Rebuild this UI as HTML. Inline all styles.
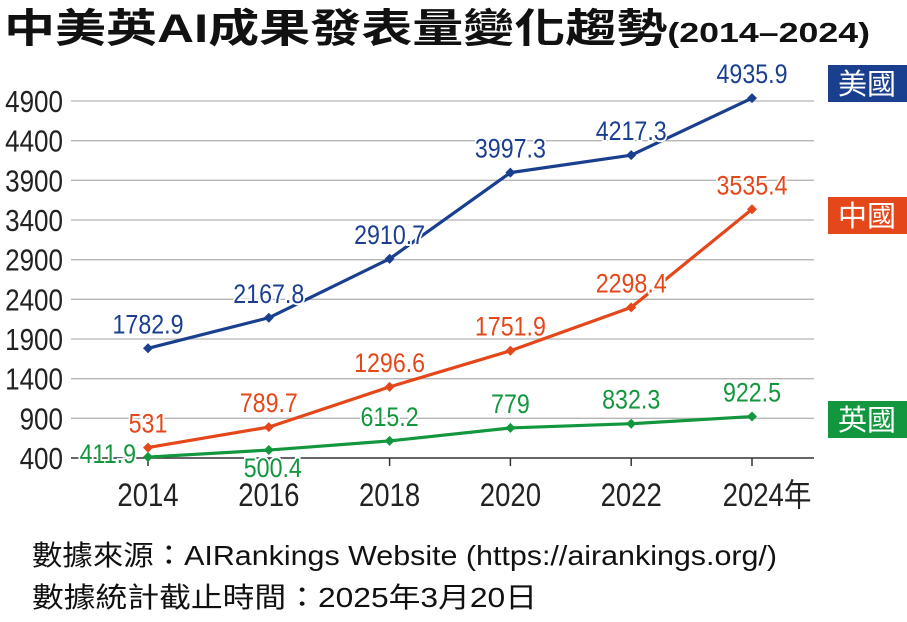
<!DOCTYPE html>
<html><head><meta charset="utf-8">
<style>
body{margin:0;background:#fff;width:907px;height:617px;overflow:hidden;font-family:"Liberation Sans","Noto Sans CJK TC",sans-serif;}
svg text{font-family:"Liberation Sans","Noto Sans CJK TC",sans-serif;}
</style></head>
<body>
<svg id="chart" width="907" height="617" viewBox="0 0 907 617" xmlns="http://www.w3.org/2000/svg">
<text x="4" y="42" font-size="40" font-weight="bold" fill="#111" textLength="866" lengthAdjust="spacingAndGlyphs">中美英AI成果發表量變化趨勢<tspan font-size="28">(2014–2024)</tspan></text>
<g id="grid"></g><g id="axes"></g><g id="series"></g>
<g>
<rect x="828" y="65" width="79" height="37" fill="#1b3f8f"/>
<text x="867" y="94" font-size="29" fill="#fff" text-anchor="middle">美國</text>
<rect x="828" y="197" width="79" height="37" fill="#e4471a"/>
<text x="867" y="226" font-size="29" fill="#fff" text-anchor="middle">中國</text>
<rect x="828" y="401" width="79" height="37" fill="#13973e"/>
<text x="867" y="430" font-size="29" fill="#fff" text-anchor="middle">英國</text>
</g>
<text x="32" y="565" font-size="28" fill="#111" textLength="745" lengthAdjust="spacingAndGlyphs">數據來源：AIRankings Website (https://airankings.org/)</text>
<text x="32" y="607" font-size="28" fill="#111" textLength="505" lengthAdjust="spacingAndGlyphs">數據統計截止時間：2025年3月20日</text>
</svg>
<script>
const years=[2014,2016,2018,2020,2022,2024];
const yTicks=[400,900,1400,1900,2400,2900,3400,3900,4400,4900];
const usa=[1782.9,2167.8,2910.7,3997.3,4217.3,4935.9];
const china=[531,789.7,1296.6,1751.9,2298.4,3535.4];
const uk=[411.9,500.4,615.2,779,832.3,922.5];
const NS="http://www.w3.org/2000/svg";
function xS(yr){return 148+(yr-2014)*60.4;}
function yS(v){return 458-(v-400)*357/4500;}
function mk(tag,attrs,parent){const e=document.createElementNS(NS,tag);for(const k in attrs)e.setAttribute(k,attrs[k]);parent.appendChild(e);return e;}
const grid=document.getElementById('grid'),axes=document.getElementById('axes'),ser=document.getElementById('series');
yTicks.forEach(t=>{
 if(t>400){const l=mk('line',{x1:71,x2:814,y1:yS(t),y2:yS(t),stroke:'#b5b5b5','stroke-width':1.3},grid);
 
 }
 const tx=mk('text',{transform:`translate(63,${yS(t)+11}) scale(0.84,1)`,'font-size':31,'text-anchor':'end',fill:'#222'},axes);tx.textContent=t;
 
 
});
const ax=mk('line',{x1:71,x2:814,y1:458,y2:458,stroke:'#333','stroke-width':1.5},axes);


years.forEach((yr,i)=>{
 mk('line',{x1:xS(yr),x2:xS(yr),y1:458,y2:466,stroke:'#333','stroke-width':1.5},axes);
 const last=i===years.length-1;
 const tx=mk('text',{transform:`translate(${xS(yr)+(last?15:0)},506) scale(0.86,1)`,'font-size':32,'text-anchor':'middle',fill:'#222'},axes);
 tx.textContent=yr+(last?'年':'');
 
 
});
function draw(vals,color,name,mode){
 const g=mk('g',{},ser);
 
 
 const pts=vals.map((v,i)=>xS(years[i])+','+yS(v)).join(' ');
 mk('polyline',{points:pts,fill:'none',stroke:color,'stroke-width':3.2,'stroke-linejoin':'round'},g);
 vals.forEach((v,i)=>{
  const x=xS(years[i]),y=yS(v);
  const p=mk('polygon',{points:`${x},${y-5} ${x+5},${y} ${x},${y+5} ${x-5},${y}`,fill:color},g);
  
  
  const m=mode?mode[i]:'a';
  let tx=x,ty=y-15,anc='middle';
  if(m==='b'){ty=y+27;tx=x+4;}
  if(m==='l'){tx=x-12;ty=y+6;anc='end';}
  const t=mk('text',{transform:`translate(${tx},${ty}) scale(0.86,1)`,'font-size':27,'text-anchor':anc,fill:color,stroke:'#fff','stroke-width':4,'paint-order':'stroke'},g);
  t.textContent=v;
  
  
 });
}
draw(uk,'#13973e','uk',['l','b','a','a','a','a']);
draw(china,'#e4471a','china');
draw(usa,'#1b3f8f','usa');
</script>
</body></html>
